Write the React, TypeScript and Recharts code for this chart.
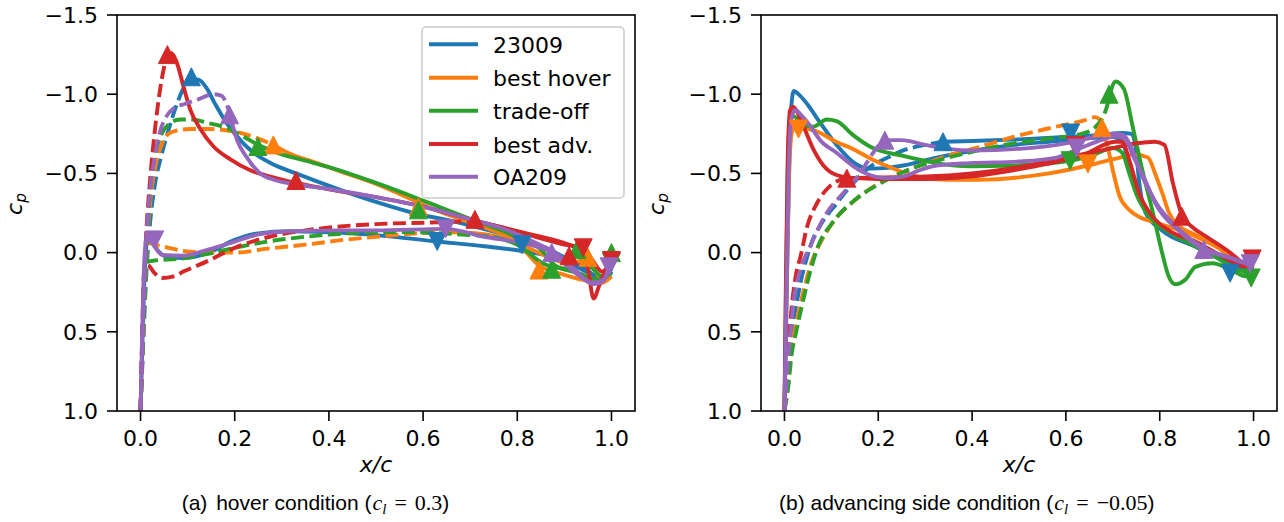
import React from 'react';
import { ComposedChart, Line, Scatter, XAxis, YAxis } from 'recharts';

// colours (matplotlib tab10)
const BLUE = '#1f77b4';
const ORANGE = '#ff7f0e';
const GREEN = '#2ca02c';
const RED = '#d62728';
const PURPLE = '#9467bd';

const airfoils = ['23009', 'best hover', 'trade-off', 'best adv.', 'OA209'];
const airfoilColors = [BLUE, ORANGE, GREEN, RED, PURPLE];

const xTicks = [0, 0.2, 0.4, 0.6, 0.8, 1.0];
const yTicks = [-1.5, -1.0, -0.5, 0, 0.5, 1.0];

// ---------- (a) hover, c_l = 0.3 : [x/c, cp] ----------
const h23009UpLam = [[0, 1.0], [0.006, 0.55], [0.012, 0.15], [0.02, -0.18], [0.03, -0.42], [0.045, -0.62], [0.06, -0.78], [0.075, -0.92], [0.09, -1.03], [0.108, -1.1]];
const h23009UpTurb = [[0.108, -1.1], [0.125, -1.09], [0.14, -1.04], [0.16, -0.93], [0.18, -0.83], [0.2, -0.75], [0.24, -0.63], [0.28, -0.56], [0.33, -0.5], [0.43, -0.39], [0.5, -0.32], [0.58, -0.25], [0.66, -0.2], [0.74, -0.14], [0.81, -0.08], [0.86, -0.03], [0.9, 0.03], [0.94, 0.09], [0.97, 0.15], [0.99, 0.15], [1.0, 0.1]];
const h23009Lower = [[0, 1.0], [0.005, 0.45], [0.01, 0.05], [0.016, -0.1], [0.025, -0.06], [0.05, 0.02], [0.09, 0.035], [0.145, 0.0], [0.2, -0.08], [0.245, -0.12], [0.32, -0.135], [0.43, -0.125], [0.5, -0.11], [0.63, -0.07], [0.73, -0.04], [0.81, -0.01], [0.88, 0.03], [0.92, 0.08], [0.96, 0.14], [0.99, 0.16], [1.0, 0.12]];
const h23009MarkUp = [[0.108, -1.11]];
const h23009MarkDown = [[0.63, -0.07], [0.81, -0.05]];

const hHoverUpLam = [[0, 1.0], [0.006, 0.5], [0.012, 0.05], [0.02, -0.3], [0.03, -0.52], [0.046, -0.69], [0.06, -0.75], [0.076, -0.77], [0.107, -0.78], [0.15, -0.78], [0.198, -0.765], [0.25, -0.72], [0.282, -0.68]];
const hHoverUpTurb = [[0.282, -0.68], [0.32, -0.62], [0.37, -0.57], [0.427, -0.51], [0.503, -0.43], [0.58, -0.33], [0.617, -0.28], [0.68, -0.21], [0.73, -0.16], [0.8, -0.06], [0.846, 0.08], [0.9, 0.14], [0.953, 0.18], [0.98, 0.19], [1.0, 0.15]];
const hHoverLoLam = [[0, 1.0], [0.006, 0.45], [0.012, 0.0], [0.018, -0.06], [0.03, -0.05], [0.06, -0.03], [0.091, -0.01], [0.15, 0.0], [0.2, 0.0], [0.27, -0.025], [0.35, -0.05], [0.43, -0.08], [0.5, -0.1], [0.58, -0.12], [0.64, -0.13]];
const hHoverLoTurb = [[0.64, -0.13], [0.72, -0.12], [0.8, -0.06], [0.86, 0.02], [0.91, 0.07], [0.95, 0.04], [0.975, 0.15], [1.0, 0.1]];
const hHoverMarkUp = [[0.282, -0.68], [0.59, -0.29], [0.846, 0.11], [0.95, 0.03]];
const hHoverMarkDown: number[][] = [];

const hTradeUpLam = [[0, 1.0], [0.006, 0.5], [0.012, 0.05], [0.02, -0.38], [0.03, -0.6], [0.045, -0.75], [0.06, -0.81], [0.084, -0.84], [0.11, -0.84], [0.14, -0.82], [0.18, -0.79], [0.22, -0.73], [0.249, -0.68]];
const hTradeUpTurb = [[0.249, -0.68], [0.3, -0.62], [0.35, -0.58], [0.4, -0.54], [0.5, -0.44], [0.59, -0.34], [0.65, -0.27], [0.72, -0.19], [0.8, -0.1], [0.85, -0.02], [0.88, 0.08], [0.93, 0.13], [0.97, 0.17], [1.0, 0.13]];
const hTradeLoLam = [[0, 1.0], [0.006, 0.45], [0.012, 0.06], [0.03, 0.05], [0.08, 0.04], [0.14, 0.01], [0.2, -0.03], [0.27, -0.07], [0.35, -0.1], [0.43, -0.12], [0.55, -0.13], [0.65, -0.12], [0.75, -0.1]];
const hTradeLoTurb = [[0.75, -0.1], [0.8, -0.05], [0.856, 0.07], [0.9, 0.1], [0.93, 0.02], [0.96, 0.1], [0.98, 0.15], [1.0, 0.05]];
const hTradeMarkUp = [[0.249, -0.67], [0.59, -0.27], [0.873, 0.105], [0.927, -0.02], [1.0, 0.0]];
const hTradeMarkDown = [[1.0, 0.06]];

const hAdvUpLam = [[0, 1.0], [0.004, 0.5], [0.01, 0.0], [0.02, -0.45], [0.03, -0.76], [0.04, -1.0], [0.05, -1.17], [0.057, -1.24]];
const hAdvUpTurb = [[0.057, -1.24], [0.065, -1.26], [0.077, -1.2], [0.091, -1.05], [0.106, -0.9], [0.127, -0.78], [0.155, -0.67], [0.19, -0.59], [0.233, -0.52], [0.276, -0.48], [0.33, -0.44], [0.4, -0.4], [0.5, -0.35], [0.6, -0.29], [0.7, -0.21], [0.78, -0.15], [0.85, -0.1], [0.9, -0.06], [0.93, -0.02], [0.95, 0.1], [0.962, 0.29], [0.975, 0.2], [0.99, 0.1], [1.0, 0.08]];
const hAdvLoLam = [[0, 1.0], [0.004, 0.45], [0.008, 0.1], [0.015, 0.08], [0.03, 0.13], [0.046, 0.16], [0.07, 0.15], [0.091, 0.12], [0.145, 0.05], [0.2, -0.03], [0.274, -0.1], [0.35, -0.14], [0.5, -0.18], [0.617, -0.19], [0.71, -0.2]];
const hAdvLoTurb = [[0.71, -0.2], [0.78, -0.15], [0.85, -0.09], [0.9, -0.05], [0.94, -0.03], [0.96, 0.05], [0.98, 0.12], [1.0, 0.06]];
const hAdvMarkUp = [[0.057, -1.25], [0.33, -0.455], [0.71, -0.21], [0.91, 0.02]];
const hAdvMarkDown = [[0.94, -0.03], [1.0, 0.05]];

const hOaUpLam = [[0, 1.0], [0.005, 0.5], [0.01, 0.05], [0.02, -0.38], [0.03, -0.6], [0.042, -0.77], [0.055, -0.86], [0.07, -0.91], [0.095, -0.94], [0.12, -0.965], [0.155, -1.0], [0.172, -0.99], [0.181, -0.95], [0.189, -0.88]];
const hOaUpTurb = [[0.189, -0.88], [0.205, -0.71], [0.226, -0.6], [0.254, -0.5], [0.283, -0.46], [0.332, -0.43], [0.403, -0.4], [0.5, -0.35], [0.6, -0.29], [0.7, -0.21], [0.78, -0.14], [0.84, -0.06], [0.88, 0.0], [0.92, 0.1], [0.962, 0.2], [0.983, 0.18], [0.995, 0.09]];
const hOaLower = [[0, 1.0], [0.004, 0.45], [0.008, 0.05], [0.013, -0.09], [0.022, -0.07], [0.046, 0.015], [0.09, 0.02], [0.145, -0.02], [0.2, -0.07], [0.25, -0.115], [0.32, -0.135], [0.43, -0.14], [0.5, -0.14], [0.648, -0.15], [0.73, -0.1], [0.81, -0.06], [0.873, 0.0], [0.92, 0.12], [0.96, 0.19], [0.983, 0.17], [0.995, 0.09]];
const hOaMarkUp = [[0.189, -0.87], [0.873, 0.0]];
const hOaMarkDown = [[0.03, -0.08], [0.648, -0.15], [0.995, 0.09]];

// ---------- (b) advancing side, c_l = -0.05 ----------
const a23009Peak = [[0, 1.0], [0.004, 0.4], [0.009, -0.4], [0.014, -0.9], [0.02, -1.02], [0.03, -1.0], [0.048, -0.94], [0.076, -0.82], [0.111, -0.68], [0.147, -0.57], [0.182, -0.53], [0.22, -0.535], [0.253, -0.55], [0.324, -0.6], [0.395, -0.64], [0.49, -0.68], [0.564, -0.7], [0.64, -0.72], [0.7, -0.73], [0.72, -0.7], [0.735, -0.55], [0.75, -0.4], [0.77, -0.28], [0.8, -0.18], [0.85, -0.08], [0.9, 0.0], [0.95, 0.07], [0.98, 0.11], [1.0, 0.1]];
const a23009Lam = [[0, 1.0], [0.008, 0.75], [0.015, 0.5], [0.024, 0.35], [0.035, 0.18], [0.048, 0.03], [0.06, -0.08], [0.076, -0.17], [0.111, -0.31], [0.147, -0.44], [0.182, -0.54], [0.22, -0.6], [0.253, -0.645], [0.3, -0.68], [0.338, -0.7]];
const a23009Turb = [[0.338, -0.7], [0.4, -0.705], [0.5, -0.715], [0.6, -0.73], [0.68, -0.745], [0.72, -0.755], [0.74, -0.75], [0.749, -0.66], [0.756, -0.45], [0.77, -0.25], [0.805, -0.14], [0.876, -0.04], [0.947, 0.05], [1.0, 0.09]];
const a23009MarkUp = [[0.338, -0.7]];
const a23009MarkDown = [[0.61, -0.755], [0.95, 0.13]];

const aHoverPeak = [[0, 1.0], [0.004, 0.3], [0.01, -0.5], [0.016, -0.76], [0.025, -0.8], [0.04, -0.79], [0.073, -0.76], [0.11, -0.7], [0.149, -0.65], [0.186, -0.59], [0.224, -0.54], [0.26, -0.5], [0.3, -0.47], [0.35, -0.46], [0.413, -0.46], [0.5, -0.475], [0.564, -0.5], [0.647, -0.55], [0.715, -0.6], [0.745, -0.62], [0.775, -0.6], [0.79, -0.5], [0.805, -0.38], [0.82, -0.25], [0.84, -0.17], [0.87, -0.12], [0.9, -0.08], [0.94, 0.0], [0.97, 0.06], [1.0, 0.08]];
const aHoverLam = [[0, 1.0], [0.008, 0.8], [0.015, 0.6], [0.025, 0.45], [0.04, 0.25], [0.058, 0.06], [0.08, -0.08], [0.111, -0.22], [0.15, -0.33], [0.186, -0.41], [0.225, -0.47], [0.262, -0.52], [0.337, -0.6], [0.413, -0.665], [0.488, -0.73], [0.564, -0.785], [0.639, -0.835], [0.662, -0.855], [0.672, -0.84], [0.677, -0.8]];
const aHoverTurb = [[0.677, -0.8], [0.689, -0.67], [0.7, -0.52], [0.714, -0.36], [0.735, -0.27], [0.76, -0.22], [0.791, -0.19], [0.862, -0.12], [0.919, -0.04], [0.975, 0.07], [1.0, 0.1]];
const aHoverMarkUp = [[0.677, -0.79]];
const aHoverMarkDown = [[0.03, -0.78], [0.647, -0.56]];

const aTradePeak = [[0, 1.0], [0.003, 0.3], [0.007, -0.5], [0.012, -0.84], [0.02, -0.86], [0.04, -0.8], [0.062, -0.795], [0.09, -0.84], [0.111, -0.83], [0.147, -0.74], [0.182, -0.67], [0.253, -0.61], [0.324, -0.565], [0.395, -0.545], [0.488, -0.55], [0.609, -0.58], [0.66, -0.62], [0.7, -0.66], [0.72, -0.63], [0.735, -0.5], [0.75, -0.37], [0.78, -0.22], [0.82, -0.13], [0.87, -0.05], [0.92, 0.03], [0.96, 0.1], [1.0, 0.14]];
const aTradeLam = [[0, 1.0], [0.008, 0.85], [0.015, 0.65], [0.025, 0.5], [0.04, 0.3], [0.055, 0.12], [0.073, -0.05], [0.1, -0.18], [0.149, -0.33], [0.2, -0.43], [0.262, -0.52], [0.337, -0.59], [0.413, -0.645], [0.488, -0.69], [0.564, -0.72], [0.639, -0.755], [0.662, -0.79], [0.685, -0.9], [0.692, -0.97]];
const aTradeTurb = [[0.692, -0.98], [0.706, -1.08], [0.724, -1.03], [0.742, -0.8], [0.763, -0.52], [0.784, -0.27], [0.805, 0.0], [0.819, 0.15], [0.833, 0.2], [0.855, 0.17], [0.876, 0.09], [0.912, 0.067], [0.947, 0.1], [0.983, 0.15], [1.0, 0.1]];
const aTradeMarkUp = [[0.692, -1.0]];
const aTradeMarkDown = [[0.609, -0.58], [0.995, 0.16]];

const aAdvPeak = [[0, 1.0], [0.003, 0.2], [0.007, -0.6], [0.012, -0.9], [0.018, -0.92], [0.04, -0.8], [0.062, -0.65], [0.083, -0.55], [0.111, -0.49], [0.15, -0.47], [0.2, -0.465], [0.3, -0.465], [0.395, -0.48], [0.488, -0.52], [0.56, -0.56], [0.639, -0.62], [0.705, -0.7], [0.72, -0.7], [0.735, -0.585], [0.756, -0.375], [0.784, -0.23], [0.819, -0.14], [0.876, -0.07], [0.947, 0.045], [0.983, 0.09], [1.0, 0.06]];
const aAdvLam = [[0, 1.0], [0.008, 0.6], [0.017, 0.3], [0.028, 0.09], [0.033, 0.04], [0.048, -0.16], [0.069, -0.31], [0.097, -0.42], [0.133, -0.47]];
const aAdvTurb = [[0.133, -0.47], [0.2, -0.475], [0.3, -0.48], [0.4, -0.5], [0.5, -0.54], [0.6, -0.6], [0.7, -0.66], [0.75, -0.69], [0.79, -0.7], [0.81, -0.68], [0.828, -0.44], [0.847, -0.24], [0.87, -0.16], [0.9, -0.1], [0.95, 0.0], [0.98, 0.07], [1.0, 0.1]];
const aAdvMarkUp = [[0.133, -0.47], [0.847, -0.23]];
const aAdvMarkDown = [[0.62, -0.675], [0.997, 0.04]];

const aOaPeak = [[0, 1.0], [0.004, 0.3], [0.009, -0.5], [0.015, -0.85], [0.023, -0.9], [0.035, -0.87], [0.055, -0.8], [0.076, -0.71], [0.111, -0.63], [0.147, -0.545], [0.182, -0.49], [0.215, -0.47], [0.253, -0.48], [0.288, -0.52], [0.324, -0.55], [0.395, -0.565], [0.5, -0.575], [0.58, -0.6], [0.623, -0.65], [0.68, -0.715], [0.705, -0.735], [0.725, -0.72], [0.745, -0.6], [0.77, -0.45], [0.791, -0.31], [0.84, -0.14], [0.894, -0.02], [0.947, 0.03], [0.993, 0.07]];
const aOaLam = [[0, 1.0], [0.01, 0.6], [0.02, 0.3], [0.035, 0.1], [0.055, -0.04], [0.09, -0.25], [0.125, -0.375], [0.161, -0.5], [0.189, -0.63], [0.205, -0.69], [0.214, -0.71]];
const aOaTurb = [[0.214, -0.71], [0.25, -0.71], [0.3, -0.68], [0.35, -0.655], [0.4, -0.645], [0.5, -0.655], [0.6, -0.69], [0.66, -0.73], [0.7, -0.75], [0.72, -0.745], [0.74, -0.66], [0.76, -0.5], [0.791, -0.32], [0.84, -0.15], [0.894, -0.03], [0.947, 0.03], [0.993, 0.08]];
const aOaMarkUp = [[0.214, -0.71], [0.894, -0.02]];
const aOaMarkDown = [[0.623, -0.66], [0.993, 0.07]];

type Curves = { color: string; dashed: number[][][]; solid: number[][][]; up: number[][]; down: number[][] };

const hoverCurves: Curves[] = [
  { color: BLUE, dashed: [h23009UpLam], solid: [h23009UpTurb, h23009Lower], up: h23009MarkUp, down: h23009MarkDown },
  { color: ORANGE, dashed: [hHoverUpLam, hHoverLoLam], solid: [hHoverUpTurb, hHoverLoTurb], up: hHoverMarkUp, down: hHoverMarkDown },
  { color: GREEN, dashed: [hTradeUpLam, hTradeLoLam], solid: [hTradeUpTurb, hTradeLoTurb], up: hTradeMarkUp, down: hTradeMarkDown },
  { color: RED, dashed: [hAdvUpLam, hAdvLoLam], solid: [hAdvUpTurb, hAdvLoTurb], up: hAdvMarkUp, down: hAdvMarkDown },
  { color: PURPLE, dashed: [hOaUpLam], solid: [hOaUpTurb, hOaLower], up: hOaMarkUp, down: hOaMarkDown },
];

const advCurves: Curves[] = [
  { color: BLUE, dashed: [a23009Lam], solid: [a23009Peak, a23009Turb], up: a23009MarkUp, down: a23009MarkDown },
  { color: ORANGE, dashed: [aHoverLam], solid: [aHoverPeak, aHoverTurb], up: aHoverMarkUp, down: aHoverMarkDown },
  { color: GREEN, dashed: [aTradeLam], solid: [aTradePeak, aTradeTurb], up: aTradeMarkUp, down: aTradeMarkDown },
  { color: RED, dashed: [aAdvLam], solid: [aAdvPeak, aAdvTurb], up: aAdvMarkUp, down: aAdvMarkDown },
  { color: PURPLE, dashed: [aOaLam], solid: [aOaPeak, aOaTurb], up: aOaMarkUp, down: aOaMarkDown },
];

const LW = 3.9;
const tickFont = { fontSize: 22, fill: '#000', fontFamily: 'DejaVu Sans' };
const fmt = (v: number) => (v < 0 ? '\u2212' : '') + Math.abs(v).toFixed(1);
const toPts = (a: number[][]) => a.map(([x, y]) => ({ x, y }));

function triangle(color: string, down: boolean) {
  return (p: any) => {
    const { cx, cy } = p;
    const h = 9;
    const d = down
      ? `M${cx},${cy + h}L${cx + h},${cy - h}L${cx - h},${cy - h}Z`
      : `M${cx},${cy - h}L${cx + h},${cy + h}L${cx - h},${cy + h}Z`;
    return <path d={d} fill={color} stroke={color} strokeWidth={1} />;
  };
}

function Panel({ curves, width, left, right }: { curves: Curves[]; width: number; left: number; right: number }) {
  const items = curves.flatMap((c, i) => [
    ...c.dashed.map((d, j) => (
      <Line key={`d${i}-${j}`} data={toPts(d)} dataKey="y" type="monotone" stroke={c.color}
        strokeWidth={LW} strokeDasharray="13 5.5" dot={false} activeDot={false} isAnimationActive={false} />
    )),
    ...c.solid.map((d, j) => (
      <Line key={`s${i}-${j}`} data={toPts(d)} dataKey="y" type="monotone" stroke={c.color}
        strokeWidth={LW} strokeLinejoin="round" dot={false} activeDot={false} isAnimationActive={false} />
    )),
    <Scatter key={`u${i}`} data={toPts(c.up)} dataKey="y" shape={triangle(c.color, false)} isAnimationActive={false} />,
    <Scatter key={`v${i}`} data={toPts(c.down)} dataKey="y" shape={triangle(c.color, true)} isAnimationActive={false} />,
  ]);

  return (
    <ComposedChart width={width} height={522} margin={{ top: 15, right, bottom: 81, left }}>
      <XAxis dataKey="x" type="number" domain={[-0.05, 1.05]} allowDataOverflow ticks={xTicks}
        tickFormatter={fmt} interval={0} height={30} tickSize={10} tickMargin={9}
        axisLine={false} stroke="#000" tick={tickFont} tickLine={{ stroke: '#000', strokeWidth: 1.6 }} />
      <YAxis dataKey="y" type="number" domain={[-1.5, 1.0]} reversed allowDataOverflow ticks={yTicks}
        tickFormatter={fmt} interval={0} width={60} tickSize={10} tickMargin={9}
        axisLine={false} stroke="#000" tick={tickFont} tickLine={{ stroke: '#000', strokeWidth: 1.6 }} />
      {items}
    </ComposedChart>
  );
}

const legendRows = [44.3, 77.7, 110.7, 144, 176.7];

export default function App() {
  const serif = 'Liberation Serif, DejaVu Serif, serif';
  const sans = 'Liberation Sans, Arial, sans-serif';
  return (
    <div style={{ position: 'absolute', left: 0, top: 0, width: 1284, height: 522, background: '#fff' }}>
      <div style={{ position: 'absolute', left: 0, top: 0 }}>
        <Panel curves={hoverCurves} width={650} left={57} right={15} />
      </div>
      <div style={{ position: 'absolute', left: 642, top: 0 }}>
        <Panel curves={advCurves} width={642} left={59} right={7} />
      </div>

      <svg width={1284} height={522} style={{ position: 'absolute', left: 0, top: 0, pointerEvents: 'none' }}>
        {/* axes frames */}
        <rect x={117} y={15} width={518} height={396} fill="none" stroke="#000" strokeWidth={1.6} />
        <rect x={761} y={15} width={516} height={396} fill="none" stroke="#000" strokeWidth={1.6} />

        {/* legend, left panel only */}
        <rect x={422} y={27} width={202} height={171} rx={4} fill="#fff" fillOpacity={0.8} stroke="#cccccc" strokeWidth={1.5} />
        {airfoils.map((name, i) => (
          <g key={name}>
            <line x1={429} x2={478} y1={legendRows[i]} y2={legendRows[i]} stroke={airfoilColors[i]} strokeWidth={4} />
            <text x={493} y={legendRows[i] + 8.5} fontFamily="DejaVu Sans" fontSize={22} fill="#000">{name}</text>
          </g>
        ))}

        {/* y labels */}
        {[22, 664].map((x) => (
          <text key={x} transform={`translate(${x},204) rotate(-90)`} textAnchor="middle"
            fontFamily="DejaVu Sans" fontStyle="italic" fontSize={22} fill="#000">
            c<tspan fontSize={15.4} dy={4}>p</tspan>
          </text>
        ))}

        {/* x labels */}
        {[376, 1019].map((x) => (
          <text key={x} x={x} y={472} textAnchor="middle" fontFamily="DejaVu Sans" fontStyle="italic" fontSize={22} fill="#000">x/c</text>
        ))}

        {/* captions */}
        <text x={181.7} y={510} fontFamily={sans} fontSize={21} fill="#000">
          <tspan>(a)</tspan>
          <tspan dx={3}> hover condition (</tspan>
          <tspan fontFamily={serif} fontStyle="italic" fontSize={22} dx={1}>c</tspan>
          <tspan fontFamily={serif} fontStyle="italic" fontSize={15} dy={4}>l</tspan>
          <tspan fontFamily={serif} fontSize={22} dy={-4} dx={8}>=</tspan>
          <tspan fontFamily={serif} fontSize={22} dx={8}>0.3</tspan>
          <tspan>)</tspan>
        </text>
        <text x={779} y={510} fontFamily={sans} fontSize={21} fill="#000">
          <tspan>(b) advancing side condition (</tspan>
          <tspan fontFamily={serif} fontStyle="italic" fontSize={22} dx={1}>c</tspan>
          <tspan fontFamily={serif} fontStyle="italic" fontSize={15} dy={4}>l</tspan>
          <tspan fontFamily={serif} fontSize={22} dy={-4} dx={8}>=</tspan>
          <tspan fontFamily={serif} fontSize={22} dx={8}>{'\u22120.05'}</tspan>
          <tspan>)</tspan>
        </text>
      </svg>
    </div>
  );
}
